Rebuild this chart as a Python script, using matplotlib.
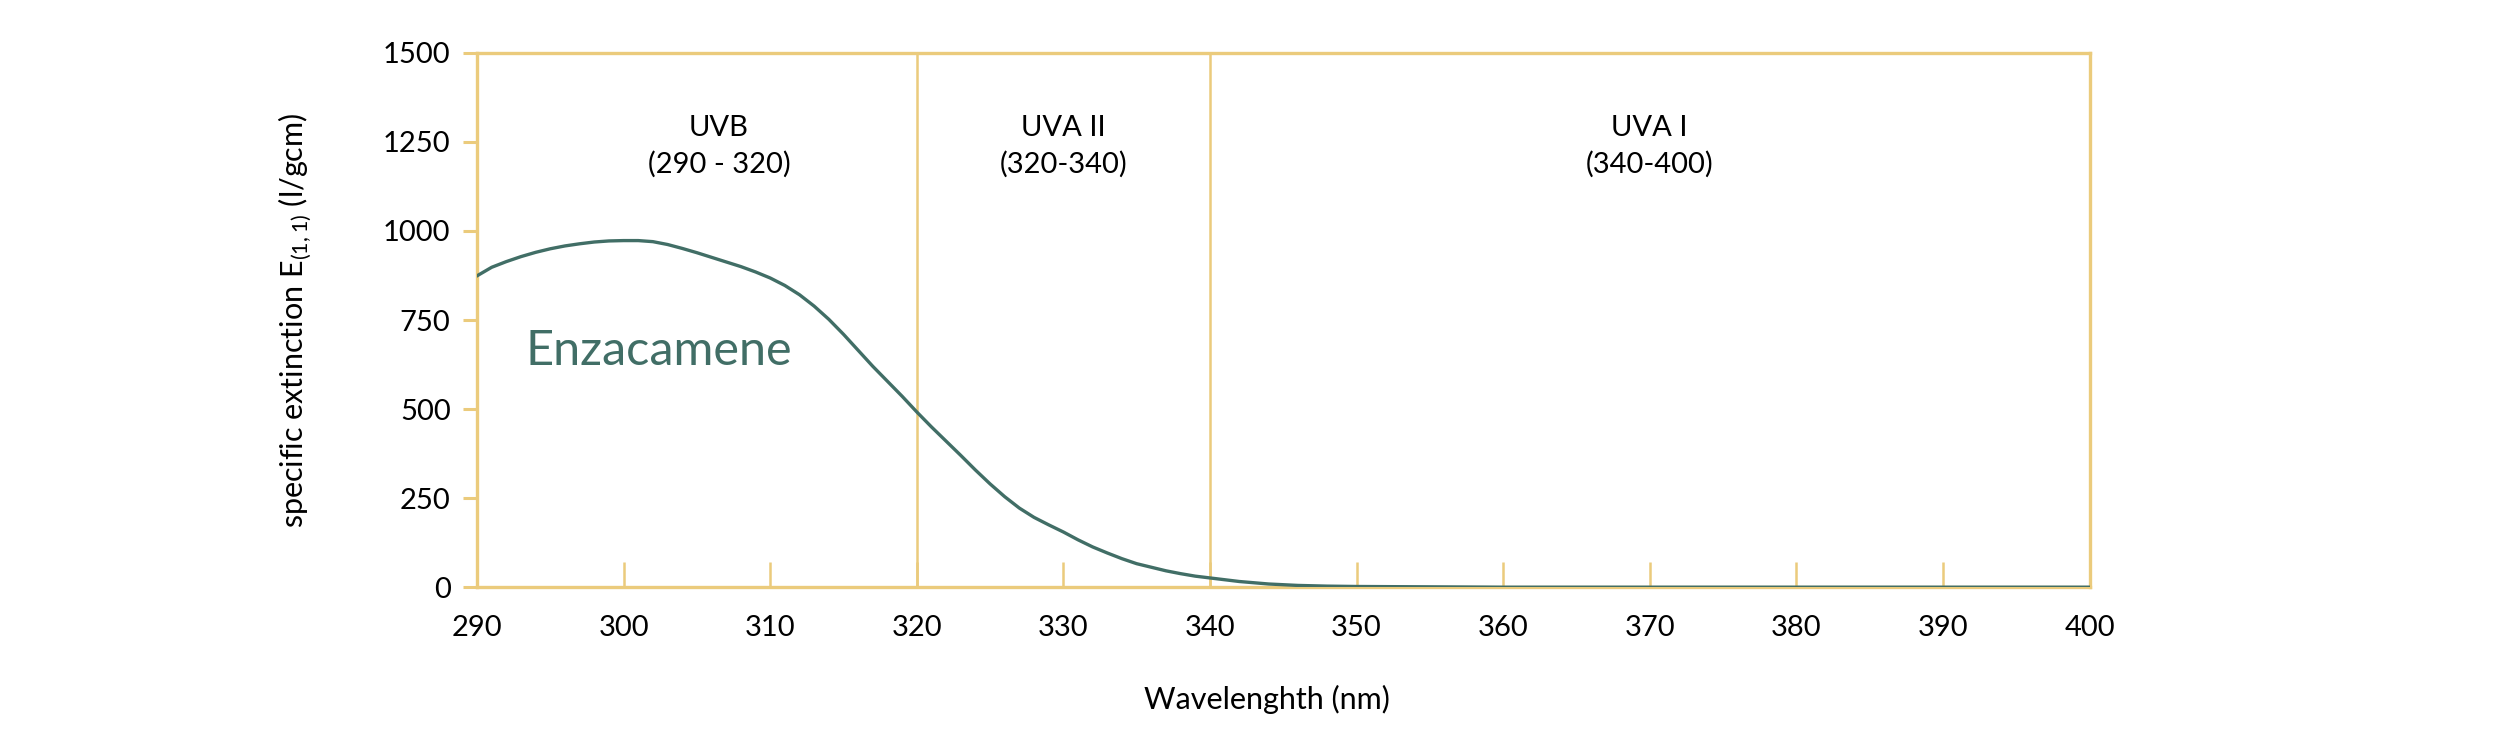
import matplotlib
matplotlib.use("Agg")
import matplotlib.pyplot as plt

# ---- data ----
wavelength = [290, 291, 292, 293, 294, 295, 296, 297, 298, 299, 300, 301, 302, 303, 304,
              305, 306, 307, 308, 309, 310, 311, 312, 313, 314, 315, 316, 317, 318, 319,
              320, 321, 322, 323, 324, 325, 326, 327, 328, 329, 330, 331, 332, 333, 334,
              335, 336, 337, 338, 339, 340, 342, 344, 346, 348, 350, 355, 360, 370, 380,
              390, 400]
extinction = [874, 898, 914, 928, 940, 950, 958, 964, 969, 972, 973, 973, 970, 962, 951,
              939, 926, 913, 900, 885, 868, 847, 821, 789, 752, 710, 665, 620, 578, 536,
              492, 450, 410, 370, 329, 290, 254, 222, 196, 175, 155, 133, 113, 96, 80,
              66, 56, 46, 38, 31, 26, 16, 9, 5, 3, 2, 1, 0, 0, 0,
              0, 0]
x_ticks = [290, 300, 310, 320, 330, 340, 350, 360, 370, 380, 390, 400]
y_ticks = [0, 250, 500, 750, 1000, 1250, 1500]
boundaries = [320, 340]
region_names = ["UVB", "UVA II", "UVA I"]
region_ranges = ["(290 - 320)", "(320-340)", "(340-400)"]
region_centers = [306.5, 330, 370]
series_name = "Enzacamene"

gold = "#EBCB7C"
green = "#416E66"

plt.rcParams['font.family'] = ['Lato', 'DejaVu Sans']

fig = plt.figure(figsize=(25, 7.34), dpi=100)
ax = fig.add_axes([0.1908, 0.200, 0.645, 0.728])

ax.plot(wavelength, extinction, color=green, lw=2.4, zorder=3)
for b in boundaries:
    ax.axvline(b, color=gold, lw=1.8, zorder=1)

ax.set_xlim(290, 400)
ax.set_ylim(0, 1500)
ax.set_xticks(x_ticks)
ax.set_yticks(y_ticks)

for s in ax.spines.values():
    s.set_color(gold)
    s.set_linewidth(2.4)

ax.tick_params(axis='x', direction='in', length=18, width=1.8, color=gold,
               labelsize=21, pad=20, labelcolor='black')
ax.tick_params(axis='y', direction='out', length=10, width=2.2, color=gold,
               labelsize=21, pad=9, labelcolor='black')

for name, rng, c in zip(region_names, region_ranges, region_centers):
    ax.text(c, 1290, name, ha='center', va='center', fontsize=21)
    ax.text(c, 1186, rng, ha='center', va='center', fontsize=21)

ax.text(293.3, 663, series_name, ha='left', va='center', fontsize=35, color=green)

ax.text(-0.113, 0.5, r'specific extinction E$_{\mathregular{(1,1)}}$ (l/gcm)',
        transform=ax.transAxes, rotation=90, ha='center', va='center', fontsize=22)
ax.text(0.49, -0.21, 'Wavelenghth (nm)', transform=ax.transAxes,
        ha='center', va='center', fontsize=22)

fig.savefig("out.png", dpi=100)
